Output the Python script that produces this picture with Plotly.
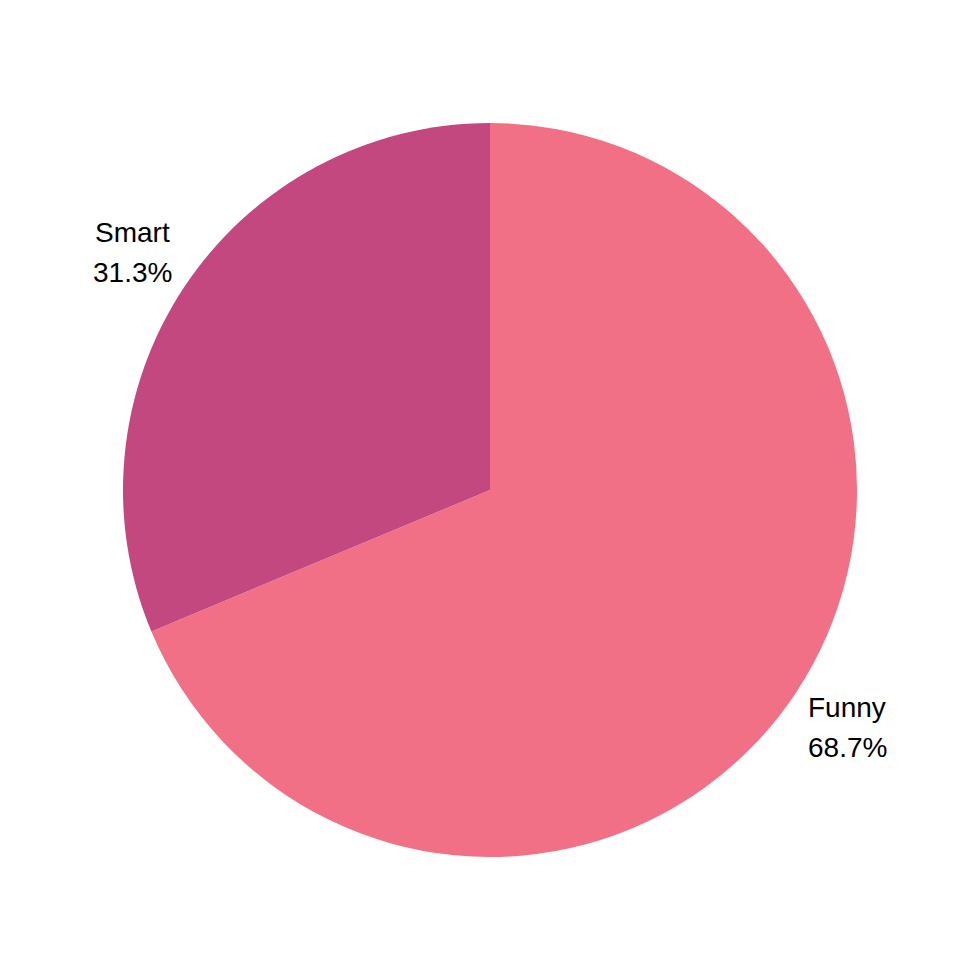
import numpy as np
import plotly.graph_objects as go

labels = ["Funny", "Smart"]
values = [68.7, 31.3]
colors = ["#F27085", "#C2487F"]

W = H = 980
R = 367
OFF = 8  # page body offset
cx, cy = 490, 490  # desired on-screen pie centre
x0 = cx - R  # on-screen left/top of plot area
l = x0 - OFF
r = W - l - 2 * R
t = x0 - OFF
b = H - t - 2 * R

fig = go.Figure(go.Pie(
    labels=labels, values=values, sort=False, direction="clockwise",
    rotation=0, marker=dict(colors=colors), textinfo="none", hoverinfo="label+percent",
    showlegend=False,
))

tot = sum(values)
cum = 0
annotations = []
font = dict(family="Liberation Sans, Arial, sans-serif", size=28, color="#000000")
for lab, v in zip(labels, values):
    mid = (cum + v / 2) / tot * 2 * np.pi
    cum += v
    rr = 1.17 * R
    px = cx + np.sin(mid) * rr
    py = cy - np.cos(mid) * rr
    for txt, dy in ((lab, -20), (f"{v / tot * 100:.1f}%", 20)):
        annotations.append(dict(
            x=(px - x0) / (2 * R), y=1 - (py + dy - x0) / (2 * R),
            xref="paper", yref="paper", text=txt, showarrow=False, font=font,
            xanchor="center", yanchor="middle",
        ))

fig.update_layout(
    width=W, height=H,
    margin=dict(l=l, r=r, t=t, b=b, autoexpand=False),
    paper_bgcolor="white", plot_bgcolor="white",
    annotations=annotations,
)
fig.write_html("out.html")
